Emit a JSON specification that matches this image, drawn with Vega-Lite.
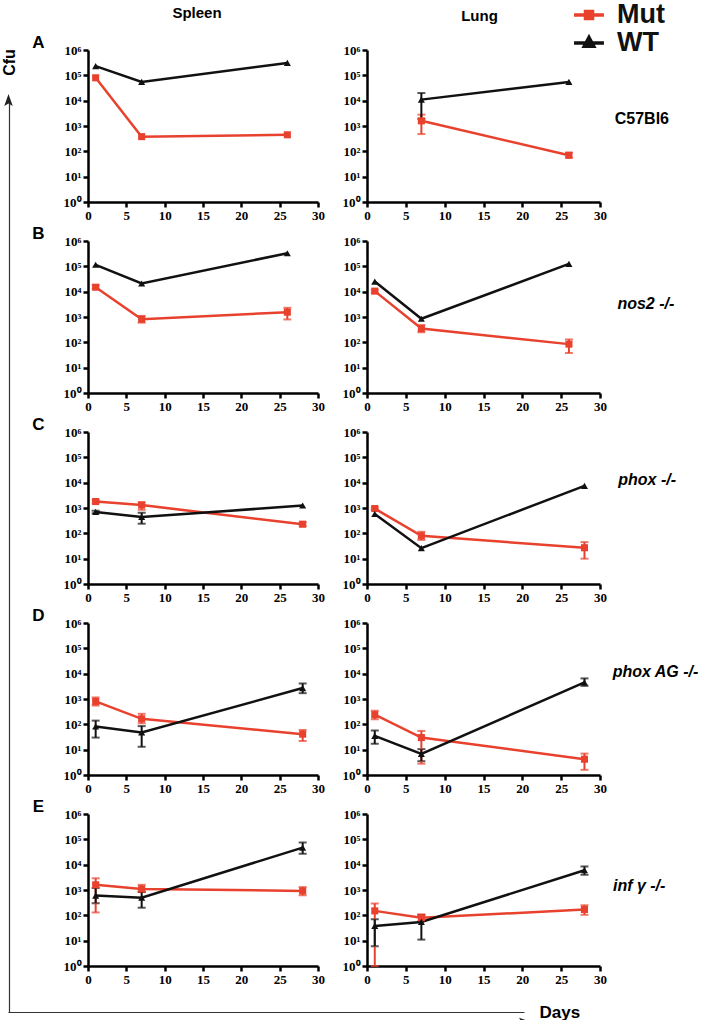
{
  "$schema": "https://vega.github.io/schema/vega-lite/v6.json",
  "padding": {"left": 0, "top": 0, "right": 0, "bottom": 0},
  "datasets": {
    "cfu": [
      {"r": "A", "o": "Spleen", "s": "Mut", "day": 1, "cfu": 80000},
      {"r": "A", "o": "Spleen", "s": "Mut", "day": 7, "cfu": 380},
      {"r": "A", "o": "Spleen", "s": "Mut", "day": 26, "cfu": 450},
      {"r": "A", "o": "Spleen", "s": "WT", "day": 1, "cfu": 230000},
      {"r": "A", "o": "Spleen", "s": "WT", "day": 7, "cfu": 55000},
      {"r": "A", "o": "Spleen", "s": "WT", "day": 26, "cfu": 310000},
      {"r": "A", "o": "Lung", "s": "Mut", "day": 7, "cfu": 1600, "lo": 480, "hi": 2800},
      {"r": "A", "o": "Lung", "s": "Mut", "day": 26, "cfu": 70, "lo": 57, "hi": 88},
      {"r": "A", "o": "Lung", "s": "WT", "day": 7, "cfu": 11000, "lo": 1900, "hi": 20000},
      {"r": "A", "o": "Lung", "s": "WT", "day": 26, "cfu": 55000},
      {"r": "B", "o": "Spleen", "s": "Mut", "day": 1, "cfu": 15000, "lo": 13000, "hi": 18000},
      {"r": "B", "o": "Spleen", "s": "Mut", "day": 7, "cfu": 820, "lo": 600, "hi": 1100},
      {"r": "B", "o": "Spleen", "s": "Mut", "day": 26, "cfu": 1550, "lo": 800, "hi": 2300},
      {"r": "B", "o": "Spleen", "s": "WT", "day": 1, "cfu": 115000},
      {"r": "B", "o": "Spleen", "s": "WT", "day": 7, "cfu": 21000},
      {"r": "B", "o": "Spleen", "s": "WT", "day": 26, "cfu": 330000},
      {"r": "B", "o": "Lung", "s": "Mut", "day": 1, "cfu": 10500, "lo": 9000, "hi": 12000},
      {"r": "B", "o": "Lung", "s": "Mut", "day": 7, "cfu": 350, "lo": 250, "hi": 480},
      {"r": "B", "o": "Lung", "s": "Mut", "day": 26, "cfu": 85, "lo": 38, "hi": 130},
      {"r": "B", "o": "Lung", "s": "WT", "day": 1, "cfu": 25000},
      {"r": "B", "o": "Lung", "s": "WT", "day": 7, "cfu": 850},
      {"r": "B", "o": "Lung", "s": "WT", "day": 26, "cfu": 125000},
      {"r": "C", "o": "Spleen", "s": "Mut", "day": 1, "cfu": 1800, "lo": 1550, "hi": 2050},
      {"r": "C", "o": "Spleen", "s": "Mut", "day": 7, "cfu": 1300, "lo": 850, "hi": 1700},
      {"r": "C", "o": "Spleen", "s": "Mut", "day": 28, "cfu": 230, "lo": 190, "hi": 270},
      {"r": "C", "o": "Spleen", "s": "WT", "day": 1, "cfu": 700, "lo": 620, "hi": 780},
      {"r": "C", "o": "Spleen", "s": "WT", "day": 7, "cfu": 440, "lo": 240, "hi": 650},
      {"r": "C", "o": "Spleen", "s": "WT", "day": 28, "cfu": 1250},
      {"r": "C", "o": "Lung", "s": "Mut", "day": 1, "cfu": 950, "lo": 850, "hi": 1050},
      {"r": "C", "o": "Lung", "s": "Mut", "day": 7, "cfu": 80, "lo": 55, "hi": 115},
      {"r": "C", "o": "Lung", "s": "Mut", "day": 28, "cfu": 27, "lo": 10, "hi": 45},
      {"r": "C", "o": "Lung", "s": "WT", "day": 1, "cfu": 580},
      {"r": "C", "o": "Lung", "s": "WT", "day": 7, "cfu": 26},
      {"r": "C", "o": "Lung", "s": "WT", "day": 28, "cfu": 7500},
      {"r": "D", "o": "Spleen", "s": "Mut", "day": 1, "cfu": 800, "lo": 550, "hi": 1150},
      {"r": "D", "o": "Spleen", "s": "Mut", "day": 7, "cfu": 165, "lo": 110, "hi": 260},
      {"r": "D", "o": "Spleen", "s": "Mut", "day": 28, "cfu": 41, "lo": 22, "hi": 60},
      {"r": "D", "o": "Spleen", "s": "WT", "day": 1, "cfu": 82, "lo": 30, "hi": 140},
      {"r": "D", "o": "Spleen", "s": "WT", "day": 7, "cfu": 48, "lo": 13, "hi": 85},
      {"r": "D", "o": "Spleen", "s": "WT", "day": 28, "cfu": 2700, "lo": 1700, "hi": 4100},
      {"r": "D", "o": "Lung", "s": "Mut", "day": 1, "cfu": 240, "lo": 160, "hi": 340},
      {"r": "D", "o": "Lung", "s": "Mut", "day": 7, "cfu": 30, "lo": 2.8, "hi": 55},
      {"r": "D", "o": "Lung", "s": "Mut", "day": 28, "cfu": 4.2, "lo": 1.6, "hi": 7},
      {"r": "D", "o": "Lung", "s": "WT", "day": 1, "cfu": 35, "lo": 17, "hi": 57},
      {"r": "D", "o": "Lung", "s": "WT", "day": 7, "cfu": 6.8, "lo": 3.5, "hi": 10.5},
      {"r": "D", "o": "Lung", "s": "WT", "day": 28, "cfu": 4500, "lo": 3300, "hi": 6500},
      {"r": "E", "o": "Spleen", "s": "Mut", "day": 1, "cfu": 1600, "lo": 130, "hi": 2900},
      {"r": "E", "o": "Spleen", "s": "Mut", "day": 7, "cfu": 1100, "lo": 830, "hi": 1600},
      {"r": "E", "o": "Spleen", "s": "Mut", "day": 28, "cfu": 920, "lo": 620, "hi": 1300},
      {"r": "E", "o": "Spleen", "s": "WT", "day": 1, "cfu": 600, "lo": 300, "hi": 1200},
      {"r": "E", "o": "Spleen", "s": "WT", "day": 7, "cfu": 500, "lo": 200, "hi": 850},
      {"r": "E", "o": "Spleen", "s": "WT", "day": 28, "cfu": 47000, "lo": 27000, "hi": 75000},
      {"r": "E", "o": "Lung", "s": "Mut", "day": 1, "cfu": 150, "lo": 1, "hi": 290},
      {"r": "E", "o": "Lung", "s": "Mut", "day": 7, "cfu": 80, "lo": 60, "hi": 110},
      {"r": "E", "o": "Lung", "s": "Mut", "day": 28, "cfu": 170, "lo": 105, "hi": 250},
      {"r": "E", "o": "Lung", "s": "WT", "day": 1, "cfu": 38, "lo": 6, "hi": 70},
      {"r": "E", "o": "Lung", "s": "WT", "day": 7, "cfu": 55, "lo": 11, "hi": 100},
      {"r": "E", "o": "Lung", "s": "WT", "day": 28, "cfu": 6000, "lo": 4000, "hi": 8500}
    ],
    "frame": [{"part": "arrow"}]
  },
  "config": {
    "view": {"stroke": null},
    "font": "Liberation Sans",
    "axis": {"domainColor": "#000000", "domainWidth": 2.5, "tickColor": "#000000", "tickWidth": 2.5, "tickSize": 5, "grid": false, "labelFont": "Liberation Sans Narrow", "labelFontWeight": "bold", "labelFontSize": 13, "labelColor": "#000000", "labelPadding": 2, "labelFlush": false, "labelOverlap": false},
    "axisLeft": {"titleAngle": 0, "titleX": -50, "titleY": -8, "titleAlign": "center", "titleBaseline": "middle", "titleFontSize": 17, "titleFont": "Liberation Sans", "titleFontWeight": "bold", "titleColor": "#000000"},
    "legend": {"title": null, "orient": "none", "padding": 0, "labelFontSize": 27, "labelFont": "Liberation Sans", "labelFontWeight": "bold", "labelColor": "#111111", "symbolSize": 676, "symbolStrokeWidth": 3.5, "symbolOpacity": 1, "labelOffset": 13},
    "title": {"font": "Liberation Sans", "fontWeight": "bold", "color": "#000000"}
  },
  "spacing": -9,
  "vconcat": [
    {
      "spacing": 13,
      "hconcat": [
        {
          "data": {"name": "frame"},
          "width": 1, "height": 962,
          "mark": {"type": "point", "filled": true, "opacity": 1, "color": "#222222", "shape": "M0,-1L0.6,0.7L0,0.35L-0.6,0.7Z", "size": 200},
          "encoding": {
            "y": {"datum": 1, "type": "quantitative", "scale": {"domain": [0, 1], "range": [962, 51]},
              "axis": {"orient": "right", "title": "Cfu", "domain": true, "domainColor": "#333333", "domainWidth": 1.2, "labels": false, "ticks": false, "titleAngle": 270, "titleX": 0, "titleY": 12, "titleAlign": "center", "titleBaseline": "middle", "titleFontSize": 16, "titleFont": "Liberation Sans", "titleFontWeight": "bold", "titleColor": "#000000"}}
          }
        },
        {
          "spacing": 2,
          "vconcat": [
            {
              "title": {"text": "C57Bl6", "orient": "right", "angle": 0, "align": "left", "baseline": "middle", "anchor": "middle", "fontSize": 16, "offset": -46, "dy": 5},
              "spacing": 17,
              "hconcat": [
                {
                  "data": {"name": "cfu"},
                  "title": {"text": "Spleen", "fontSize": 15, "frame": "group", "offset": 12, "dx": -6},
                  "width": 230, "height": 152,
                  "transform": [{"filter": "datum.r == 'A' && datum.o == 'Spleen'"}],
                  "encoding": {
                    "x": {"field": "day", "type": "quantitative", "scale": {"domain": [0, 30], "nice": false}, "axis": {"values": [0, 5, 10, 15, 20, 25, 30], "title": null}},
                    "color": {"field": "s", "type": "nominal", "scale": {"domain": ["Mut", "WT"], "range": ["#E8412E", "#111111"]}, "legend": null}
                  },
                  "layer": [
                    {"transform": [{"filter": "isValid(datum.lo)"}], "mark": {"type": "errorbar", "ticks": {"size": 8, "thickness": 2}, "thickness": 2},
                      "encoding": {"y": {"field": "lo", "type": "quantitative", "title": "A", "scale": {"type": "log", "domain": [1, 1000000], "nice": false}, "axis": {"values": [1, 10, 100, 1000, 10000, 100000, 1000000], "labelExpr": "'10' + ['⁰','¹','²','³','⁴','⁵','⁶'][round(log(datum.value)/LN10)]"}}, "y2": {"field": "hi"}}},
                    {"mark": {"type": "line", "strokeWidth": 2.5},
                      "encoding": {"y": {"field": "cfu", "type": "quantitative", "title": "A", "scale": {"type": "log", "domain": [1, 1000000], "nice": false}, "axis": {"values": [1, 10, 100, 1000, 10000, 100000, 1000000], "labelExpr": "'10' + ['⁰','¹','²','³','⁴','⁵','⁶'][round(log(datum.value)/LN10)]"}}}},
                    {"mark": {"type": "point", "filled": true, "opacity": 1, "size": 50},
                      "encoding": {"y": {"field": "cfu", "type": "quantitative", "title": "A", "scale": {"type": "log", "domain": [1, 1000000], "nice": false}, "axis": {"values": [1, 10, 100, 1000, 10000, 100000, 1000000], "labelExpr": "'10' + ['⁰','¹','²','³','⁴','⁵','⁶'][round(log(datum.value)/LN10)]"}},
                        "shape": {"field": "s", "type": "nominal", "scale": {"domain": ["Mut", "WT"], "range": ["square", "triangle-up"]}, "legend": null}}}
                  ]
                },
                {
                  "data": {"name": "cfu"},
                  "title": {"text": "Lung", "fontSize": 15, "frame": "group", "offset": 20, "dx": -4},
                  "width": 233, "height": 152,
                  "transform": [{"filter": "datum.r == 'A' && datum.o == 'Lung'"}],
                  "encoding": {
                    "x": {"field": "day", "type": "quantitative", "scale": {"domain": [0, 30], "nice": false}, "axis": {"values": [0, 5, 10, 15, 20, 25, 30], "title": null}}
                  },
                  "layer": [
                    {"transform": [{"filter": "isValid(datum.lo)"}], "mark": {"type": "errorbar", "ticks": {"size": 8, "thickness": 2}, "thickness": 2},
                      "encoding": {"y": {"field": "lo", "type": "quantitative", "title": null, "scale": {"type": "log", "domain": [1, 1000000], "nice": false}, "axis": {"values": [1, 10, 100, 1000, 10000, 100000, 1000000], "labelExpr": "'10' + ['⁰','¹','²','³','⁴','⁵','⁶'][round(log(datum.value)/LN10)]"}}, "y2": {"field": "hi"},
                        "color": {"field": "s", "type": "nominal", "scale": {"domain": ["Mut", "WT"], "range": ["#E8412E", "#111111"]}, "legend": null}}},
                    {"mark": {"type": "line", "strokeWidth": 2.5},
                      "encoding": {"y": {"field": "cfu", "type": "quantitative", "title": null, "scale": {"type": "log", "domain": [1, 1000000], "nice": false}, "axis": {"values": [1, 10, 100, 1000, 10000, 100000, 1000000], "labelExpr": "'10' + ['⁰','¹','²','³','⁴','⁵','⁶'][round(log(datum.value)/LN10)]"}},
                        "color": {"field": "s", "type": "nominal", "scale": {"domain": ["Mut", "WT"], "range": ["#E8412E", "#111111"]}, "legend": null}}},
                    {"mark": {"type": "point", "filled": true, "opacity": 1, "size": 50},
                      "encoding": {"y": {"field": "cfu", "type": "quantitative", "title": null, "scale": {"type": "log", "domain": [1, 1000000], "nice": false}, "axis": {"values": [1, 10, 100, 1000, 10000, 100000, 1000000], "labelExpr": "'10' + ['⁰','¹','²','³','⁴','⁵','⁶'][round(log(datum.value)/LN10)]"}},
                        "color": {"field": "s", "type": "nominal", "scale": {"domain": ["Mut", "WT"], "range": ["#E8412E", "#111111"]}, "legend": null},
                        "shape": {"field": "s", "type": "nominal", "scale": {"domain": ["Mut", "WT"], "range": ["square", "triangle-up"]}, "legend": null}}},
                    {"transform": [{"filter": "false"}],
                      "mark": {"type": "point", "filled": true, "fill": "#E8412E", "opacity": 1, "shape": "M-1.15,0H1.15M-0.27,-0.27H0.27V0.27H-0.27Z"},
                      "encoding": {"y": {"field": "cfu", "type": "quantitative", "title": null, "scale": {"type": "log", "domain": [1, 1000000], "nice": false}, "axis": {"values": [1, 10, 100, 1000, 10000, 100000, 1000000], "labelExpr": "'10' + ['⁰','¹','²','³','⁴','⁵','⁶'][round(log(datum.value)/LN10)]"}},
                        "stroke": {"field": "s", "type": "nominal", "scale": {"domain": ["Mut"], "range": ["#E8412E"]},
                          "legend": {"legendX": 566, "legendY": -50, "symbolType": "M-1.15,0H1.15M-0.27,-0.27H0.27V0.27H-0.27Z", "symbolFillColor": "#E8412E", "symbolStrokeColor": "#E8412E"}}}},
                    {"transform": [{"filter": "false"}],
                      "mark": {"type": "point", "filled": true, "stroke": "#111111", "opacity": 1, "shape": "M-1.15,0H1.15M0,-0.42L0.36,0.25H-0.36Z"},
                      "encoding": {"y": {"field": "cfu", "type": "quantitative", "title": null, "scale": {"type": "log", "domain": [1, 1000000], "nice": false}, "axis": {"values": [1, 10, 100, 1000, 10000, 100000, 1000000], "labelExpr": "'10' + ['⁰','¹','²','³','⁴','⁵','⁶'][round(log(datum.value)/LN10)]"}},
                        "fill": {"field": "s", "type": "nominal", "scale": {"domain": ["WT"], "range": ["#111111"]},
                          "legend": {"legendX": 566, "legendY": -22, "symbolType": "M-1.15,0H1.15M0,-0.42L0.36,0.25H-0.36Z", "symbolFillColor": "#111111", "symbolStrokeColor": "#111111"}}}}
                  ]
                }
              ]
            },
            {
              "title": {"text": "nos2 -/-", "orient": "right", "angle": 0, "align": "left", "baseline": "middle", "anchor": "middle", "fontSize": 16, "fontStyle": "italic", "offset": -46, "dy": -15},
              "spacing": 17,
              "hconcat": [
                {
                  "data": {"name": "cfu"},
                  "width": 230, "height": 152,
                  "transform": [{"filter": "datum.r == 'B' && datum.o == 'Spleen'"}],
                  "encoding": {
                    "x": {"field": "day", "type": "quantitative", "scale": {"domain": [0, 30], "nice": false}, "axis": {"values": [0, 5, 10, 15, 20, 25, 30], "title": null}},
                    "color": {"field": "s", "type": "nominal", "scale": {"domain": ["Mut", "WT"], "range": ["#E8412E", "#111111"]}, "legend": null}
                  },
                  "layer": [
                    {"transform": [{"filter": "isValid(datum.lo)"}], "mark": {"type": "errorbar", "ticks": {"size": 8, "thickness": 2}, "thickness": 2},
                      "encoding": {"y": {"field": "lo", "type": "quantitative", "title": "B", "scale": {"type": "log", "domain": [1, 1000000], "nice": false}, "axis": {"values": [1, 10, 100, 1000, 10000, 100000, 1000000], "labelExpr": "'10' + ['⁰','¹','²','³','⁴','⁵','⁶'][round(log(datum.value)/LN10)]"}}, "y2": {"field": "hi"}}},
                    {"mark": {"type": "line", "strokeWidth": 2.5},
                      "encoding": {"y": {"field": "cfu", "type": "quantitative", "title": "B", "scale": {"type": "log", "domain": [1, 1000000], "nice": false}, "axis": {"values": [1, 10, 100, 1000, 10000, 100000, 1000000], "labelExpr": "'10' + ['⁰','¹','²','³','⁴','⁵','⁶'][round(log(datum.value)/LN10)]"}}}},
                    {"mark": {"type": "point", "filled": true, "opacity": 1, "size": 50},
                      "encoding": {"y": {"field": "cfu", "type": "quantitative", "title": "B", "scale": {"type": "log", "domain": [1, 1000000], "nice": false}, "axis": {"values": [1, 10, 100, 1000, 10000, 100000, 1000000], "labelExpr": "'10' + ['⁰','¹','²','³','⁴','⁵','⁶'][round(log(datum.value)/LN10)]"}},
                        "shape": {"field": "s", "type": "nominal", "scale": {"domain": ["Mut", "WT"], "range": ["square", "triangle-up"]}, "legend": null}}}
                  ]
                },
                {
                  "data": {"name": "cfu"},
                  "width": 233, "height": 152,
                  "transform": [{"filter": "datum.r == 'B' && datum.o == 'Lung'"}],
                  "encoding": {
                    "x": {"field": "day", "type": "quantitative", "scale": {"domain": [0, 30], "nice": false}, "axis": {"values": [0, 5, 10, 15, 20, 25, 30], "title": null}},
                    "color": {"field": "s", "type": "nominal", "scale": {"domain": ["Mut", "WT"], "range": ["#E8412E", "#111111"]}, "legend": null}
                  },
                  "layer": [
                    {"transform": [{"filter": "isValid(datum.lo)"}], "mark": {"type": "errorbar", "ticks": {"size": 8, "thickness": 2}, "thickness": 2},
                      "encoding": {"y": {"field": "lo", "type": "quantitative", "title": null, "scale": {"type": "log", "domain": [1, 1000000], "nice": false}, "axis": {"values": [1, 10, 100, 1000, 10000, 100000, 1000000], "labelExpr": "'10' + ['⁰','¹','²','³','⁴','⁵','⁶'][round(log(datum.value)/LN10)]"}}, "y2": {"field": "hi"}}},
                    {"mark": {"type": "line", "strokeWidth": 2.5},
                      "encoding": {"y": {"field": "cfu", "type": "quantitative", "title": null, "scale": {"type": "log", "domain": [1, 1000000], "nice": false}, "axis": {"values": [1, 10, 100, 1000, 10000, 100000, 1000000], "labelExpr": "'10' + ['⁰','¹','²','³','⁴','⁵','⁶'][round(log(datum.value)/LN10)]"}}}},
                    {"mark": {"type": "point", "filled": true, "opacity": 1, "size": 50},
                      "encoding": {"y": {"field": "cfu", "type": "quantitative", "title": null, "scale": {"type": "log", "domain": [1, 1000000], "nice": false}, "axis": {"values": [1, 10, 100, 1000, 10000, 100000, 1000000], "labelExpr": "'10' + ['⁰','¹','²','³','⁴','⁵','⁶'][round(log(datum.value)/LN10)]"}},
                        "shape": {"field": "s", "type": "nominal", "scale": {"domain": ["Mut", "WT"], "range": ["square", "triangle-up"]}, "legend": null}}}
                  ]
                }
              ]
            },
            {
              "title": {"text": "phox -/-", "orient": "right", "angle": 0, "align": "left", "baseline": "middle", "anchor": "middle", "fontSize": 16, "fontStyle": "italic", "offset": -46, "dy": -30},
              "spacing": 17,
              "hconcat": [
                {
                  "data": {"name": "cfu"},
                  "width": 230, "height": 152,
                  "transform": [{"filter": "datum.r == 'C' && datum.o == 'Spleen'"}],
                  "encoding": {
                    "x": {"field": "day", "type": "quantitative", "scale": {"domain": [0, 30], "nice": false}, "axis": {"values": [0, 5, 10, 15, 20, 25, 30], "title": null}},
                    "color": {"field": "s", "type": "nominal", "scale": {"domain": ["Mut", "WT"], "range": ["#E8412E", "#111111"]}, "legend": null}
                  },
                  "layer": [
                    {"transform": [{"filter": "isValid(datum.lo)"}], "mark": {"type": "errorbar", "ticks": {"size": 8, "thickness": 2}, "thickness": 2},
                      "encoding": {"y": {"field": "lo", "type": "quantitative", "title": "C", "scale": {"type": "log", "domain": [1, 1000000], "nice": false}, "axis": {"values": [1, 10, 100, 1000, 10000, 100000, 1000000], "labelExpr": "'10' + ['⁰','¹','²','³','⁴','⁵','⁶'][round(log(datum.value)/LN10)]"}}, "y2": {"field": "hi"}}},
                    {"mark": {"type": "line", "strokeWidth": 2.5},
                      "encoding": {"y": {"field": "cfu", "type": "quantitative", "title": "C", "scale": {"type": "log", "domain": [1, 1000000], "nice": false}, "axis": {"values": [1, 10, 100, 1000, 10000, 100000, 1000000], "labelExpr": "'10' + ['⁰','¹','²','³','⁴','⁵','⁶'][round(log(datum.value)/LN10)]"}}}},
                    {"mark": {"type": "point", "filled": true, "opacity": 1, "size": 50},
                      "encoding": {"y": {"field": "cfu", "type": "quantitative", "title": "C", "scale": {"type": "log", "domain": [1, 1000000], "nice": false}, "axis": {"values": [1, 10, 100, 1000, 10000, 100000, 1000000], "labelExpr": "'10' + ['⁰','¹','²','³','⁴','⁵','⁶'][round(log(datum.value)/LN10)]"}},
                        "shape": {"field": "s", "type": "nominal", "scale": {"domain": ["Mut", "WT"], "range": ["square", "triangle-up"]}, "legend": null}}}
                  ]
                },
                {
                  "data": {"name": "cfu"},
                  "width": 233, "height": 152,
                  "transform": [{"filter": "datum.r == 'C' && datum.o == 'Lung'"}],
                  "encoding": {
                    "x": {"field": "day", "type": "quantitative", "scale": {"domain": [0, 30], "nice": false}, "axis": {"values": [0, 5, 10, 15, 20, 25, 30], "title": null}},
                    "color": {"field": "s", "type": "nominal", "scale": {"domain": ["Mut", "WT"], "range": ["#E8412E", "#111111"]}, "legend": null}
                  },
                  "layer": [
                    {"transform": [{"filter": "isValid(datum.lo)"}], "mark": {"type": "errorbar", "ticks": {"size": 8, "thickness": 2}, "thickness": 2},
                      "encoding": {"y": {"field": "lo", "type": "quantitative", "title": null, "scale": {"type": "log", "domain": [1, 1000000], "nice": false}, "axis": {"values": [1, 10, 100, 1000, 10000, 100000, 1000000], "labelExpr": "'10' + ['⁰','¹','²','³','⁴','⁵','⁶'][round(log(datum.value)/LN10)]"}}, "y2": {"field": "hi"}}},
                    {"mark": {"type": "line", "strokeWidth": 2.5},
                      "encoding": {"y": {"field": "cfu", "type": "quantitative", "title": null, "scale": {"type": "log", "domain": [1, 1000000], "nice": false}, "axis": {"values": [1, 10, 100, 1000, 10000, 100000, 1000000], "labelExpr": "'10' + ['⁰','¹','²','³','⁴','⁵','⁶'][round(log(datum.value)/LN10)]"}}}},
                    {"mark": {"type": "point", "filled": true, "opacity": 1, "size": 50},
                      "encoding": {"y": {"field": "cfu", "type": "quantitative", "title": null, "scale": {"type": "log", "domain": [1, 1000000], "nice": false}, "axis": {"values": [1, 10, 100, 1000, 10000, 100000, 1000000], "labelExpr": "'10' + ['⁰','¹','²','³','⁴','⁵','⁶'][round(log(datum.value)/LN10)]"}},
                        "shape": {"field": "s", "type": "nominal", "scale": {"domain": ["Mut", "WT"], "range": ["square", "triangle-up"]}, "legend": null}}}
                  ]
                }
              ]
            },
            {
              "title": {"text": "phox AG -/-", "orient": "right", "angle": 0, "align": "left", "baseline": "middle", "anchor": "middle", "fontSize": 16, "fontStyle": "italic", "offset": -80, "dy": -29},
              "spacing": 17,
              "hconcat": [
                {
                  "data": {"name": "cfu"},
                  "width": 230, "height": 152,
                  "transform": [{"filter": "datum.r == 'D' && datum.o == 'Spleen'"}],
                  "encoding": {
                    "x": {"field": "day", "type": "quantitative", "scale": {"domain": [0, 30], "nice": false}, "axis": {"values": [0, 5, 10, 15, 20, 25, 30], "title": null}},
                    "color": {"field": "s", "type": "nominal", "scale": {"domain": ["Mut", "WT"], "range": ["#E8412E", "#111111"]}, "legend": null}
                  },
                  "layer": [
                    {"transform": [{"filter": "isValid(datum.lo)"}], "mark": {"type": "errorbar", "ticks": {"size": 8, "thickness": 2}, "thickness": 2},
                      "encoding": {"y": {"field": "lo", "type": "quantitative", "title": "D", "scale": {"type": "log", "domain": [1, 1000000], "nice": false}, "axis": {"values": [1, 10, 100, 1000, 10000, 100000, 1000000], "labelExpr": "'10' + ['⁰','¹','²','³','⁴','⁵','⁶'][round(log(datum.value)/LN10)]"}}, "y2": {"field": "hi"}}},
                    {"mark": {"type": "line", "strokeWidth": 2.5},
                      "encoding": {"y": {"field": "cfu", "type": "quantitative", "title": "D", "scale": {"type": "log", "domain": [1, 1000000], "nice": false}, "axis": {"values": [1, 10, 100, 1000, 10000, 100000, 1000000], "labelExpr": "'10' + ['⁰','¹','²','³','⁴','⁵','⁶'][round(log(datum.value)/LN10)]"}}}},
                    {"mark": {"type": "point", "filled": true, "opacity": 1, "size": 50},
                      "encoding": {"y": {"field": "cfu", "type": "quantitative", "title": "D", "scale": {"type": "log", "domain": [1, 1000000], "nice": false}, "axis": {"values": [1, 10, 100, 1000, 10000, 100000, 1000000], "labelExpr": "'10' + ['⁰','¹','²','³','⁴','⁵','⁶'][round(log(datum.value)/LN10)]"}},
                        "shape": {"field": "s", "type": "nominal", "scale": {"domain": ["Mut", "WT"], "range": ["square", "triangle-up"]}, "legend": null}}}
                  ]
                },
                {
                  "data": {"name": "cfu"},
                  "width": 233, "height": 152,
                  "transform": [{"filter": "datum.r == 'D' && datum.o == 'Lung'"}],
                  "encoding": {
                    "x": {"field": "day", "type": "quantitative", "scale": {"domain": [0, 30], "nice": false}, "axis": {"values": [0, 5, 10, 15, 20, 25, 30], "title": null}},
                    "color": {"field": "s", "type": "nominal", "scale": {"domain": ["Mut", "WT"], "range": ["#E8412E", "#111111"]}, "legend": null}
                  },
                  "layer": [
                    {"transform": [{"filter": "isValid(datum.lo)"}], "mark": {"type": "errorbar", "ticks": {"size": 8, "thickness": 2}, "thickness": 2},
                      "encoding": {"y": {"field": "lo", "type": "quantitative", "title": null, "scale": {"type": "log", "domain": [1, 1000000], "nice": false}, "axis": {"values": [1, 10, 100, 1000, 10000, 100000, 1000000], "labelExpr": "'10' + ['⁰','¹','²','³','⁴','⁵','⁶'][round(log(datum.value)/LN10)]"}}, "y2": {"field": "hi"}}},
                    {"mark": {"type": "line", "strokeWidth": 2.5},
                      "encoding": {"y": {"field": "cfu", "type": "quantitative", "title": null, "scale": {"type": "log", "domain": [1, 1000000], "nice": false}, "axis": {"values": [1, 10, 100, 1000, 10000, 100000, 1000000], "labelExpr": "'10' + ['⁰','¹','²','³','⁴','⁵','⁶'][round(log(datum.value)/LN10)]"}}}},
                    {"mark": {"type": "point", "filled": true, "opacity": 1, "size": 50},
                      "encoding": {"y": {"field": "cfu", "type": "quantitative", "title": null, "scale": {"type": "log", "domain": [1, 1000000], "nice": false}, "axis": {"values": [1, 10, 100, 1000, 10000, 100000, 1000000], "labelExpr": "'10' + ['⁰','¹','²','³','⁴','⁵','⁶'][round(log(datum.value)/LN10)]"}},
                        "shape": {"field": "s", "type": "nominal", "scale": {"domain": ["Mut", "WT"], "range": ["square", "triangle-up"]}, "legend": null}}}
                  ]
                }
              ]
            },
            {
              "title": {"text": "inf γ -/-", "orient": "right", "angle": 0, "align": "left", "baseline": "middle", "anchor": "middle", "fontSize": 16, "fontStyle": "italic", "offset": -46, "dy": -6},
              "spacing": 17,
              "hconcat": [
                {
                  "data": {"name": "cfu"},
                  "width": 230, "height": 152,
                  "transform": [{"filter": "datum.r == 'E' && datum.o == 'Spleen'"}],
                  "encoding": {
                    "x": {"field": "day", "type": "quantitative", "scale": {"domain": [0, 30], "nice": false}, "axis": {"values": [0, 5, 10, 15, 20, 25, 30], "title": null}},
                    "color": {"field": "s", "type": "nominal", "scale": {"domain": ["Mut", "WT"], "range": ["#E8412E", "#111111"]}, "legend": null}
                  },
                  "layer": [
                    {"transform": [{"filter": "isValid(datum.lo)"}], "mark": {"type": "errorbar", "ticks": {"size": 8, "thickness": 2}, "thickness": 2},
                      "encoding": {"y": {"field": "lo", "type": "quantitative", "title": "E", "scale": {"type": "log", "domain": [1, 1000000], "nice": false}, "axis": {"values": [1, 10, 100, 1000, 10000, 100000, 1000000], "labelExpr": "'10' + ['⁰','¹','²','³','⁴','⁵','⁶'][round(log(datum.value)/LN10)]"}}, "y2": {"field": "hi"}}},
                    {"mark": {"type": "line", "strokeWidth": 2.5},
                      "encoding": {"y": {"field": "cfu", "type": "quantitative", "title": "E", "scale": {"type": "log", "domain": [1, 1000000], "nice": false}, "axis": {"values": [1, 10, 100, 1000, 10000, 100000, 1000000], "labelExpr": "'10' + ['⁰','¹','²','³','⁴','⁵','⁶'][round(log(datum.value)/LN10)]"}}}},
                    {"mark": {"type": "point", "filled": true, "opacity": 1, "size": 50},
                      "encoding": {"y": {"field": "cfu", "type": "quantitative", "title": "E", "scale": {"type": "log", "domain": [1, 1000000], "nice": false}, "axis": {"values": [1, 10, 100, 1000, 10000, 100000, 1000000], "labelExpr": "'10' + ['⁰','¹','²','³','⁴','⁵','⁶'][round(log(datum.value)/LN10)]"}},
                        "shape": {"field": "s", "type": "nominal", "scale": {"domain": ["Mut", "WT"], "range": ["square", "triangle-up"]}, "legend": null}}}
                  ]
                },
                {
                  "data": {"name": "cfu"},
                  "width": 233, "height": 152,
                  "transform": [{"filter": "datum.r == 'E' && datum.o == 'Lung'"}],
                  "encoding": {
                    "x": {"field": "day", "type": "quantitative", "scale": {"domain": [0, 30], "nice": false}, "axis": {"values": [0, 5, 10, 15, 20, 25, 30], "title": null}},
                    "color": {"field": "s", "type": "nominal", "scale": {"domain": ["Mut", "WT"], "range": ["#E8412E", "#111111"]}, "legend": null}
                  },
                  "layer": [
                    {"transform": [{"filter": "isValid(datum.lo)"}], "mark": {"type": "errorbar", "ticks": {"size": 8, "thickness": 2}, "thickness": 2},
                      "encoding": {"y": {"field": "lo", "type": "quantitative", "title": null, "scale": {"type": "log", "domain": [1, 1000000], "nice": false}, "axis": {"values": [1, 10, 100, 1000, 10000, 100000, 1000000], "labelExpr": "'10' + ['⁰','¹','²','³','⁴','⁵','⁶'][round(log(datum.value)/LN10)]"}}, "y2": {"field": "hi"}}},
                    {"mark": {"type": "line", "strokeWidth": 2.5},
                      "encoding": {"y": {"field": "cfu", "type": "quantitative", "title": null, "scale": {"type": "log", "domain": [1, 1000000], "nice": false}, "axis": {"values": [1, 10, 100, 1000, 10000, 100000, 1000000], "labelExpr": "'10' + ['⁰','¹','²','³','⁴','⁵','⁶'][round(log(datum.value)/LN10)]"}}}},
                    {"mark": {"type": "point", "filled": true, "opacity": 1, "size": 50},
                      "encoding": {"y": {"field": "cfu", "type": "quantitative", "title": null, "scale": {"type": "log", "domain": [1, 1000000], "nice": false}, "axis": {"values": [1, 10, 100, 1000, 10000, 100000, 1000000], "labelExpr": "'10' + ['⁰','¹','²','³','⁴','⁵','⁶'][round(log(datum.value)/LN10)]"}},
                        "shape": {"field": "s", "type": "nominal", "scale": {"domain": ["Mut", "WT"], "range": ["square", "triangle-up"]}, "legend": null}}}
                  ]
                }
              ]
            }
          ]
        }
      ]
    },
    {
      "data": {"name": "frame"},
      "width": 560, "height": 0,
      "mark": {"type": "point", "filled": true, "opacity": 1, "color": "#222222", "shape": "M1,0L-0.7,0.6L-0.35,0L-0.7,-0.6Z", "size": 200},
      "encoding": {
        "x": {"datum": 1, "type": "quantitative", "scale": {"domain": [0, 1], "range": [0, 516]},
          "axis": {"orient": "top", "title": "Days", "domain": true, "domainColor": "#333333", "domainWidth": 1.2, "labels": false, "ticks": false, "titleX": 531, "titleY": 0, "titleAlign": "left", "titleBaseline": "middle", "titleFontSize": 17, "titleFontWeight": "bold", "titleColor": "#000000"}}
      }
    }
  ]
}
